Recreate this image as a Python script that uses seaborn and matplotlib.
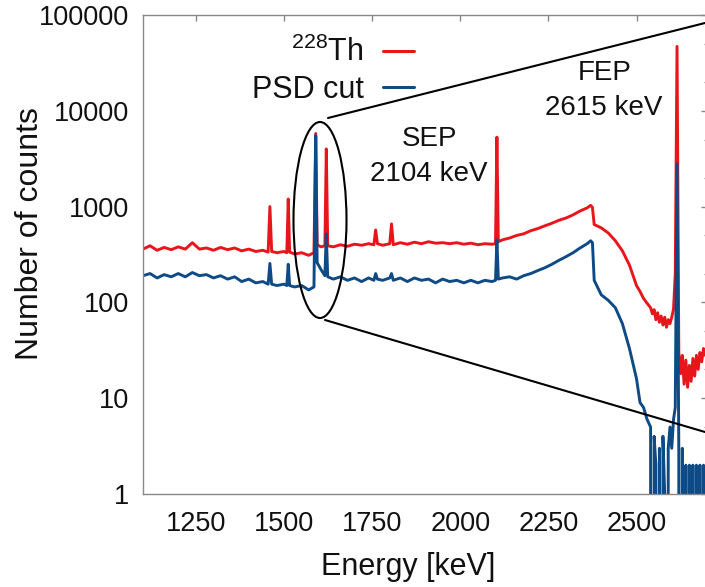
import matplotlib
matplotlib.use("Agg")
import matplotlib.pyplot as plt
import seaborn as sns
import pandas as pd
from matplotlib.patches import Ellipse
from matplotlib.lines import Line2D
from matplotlib.ticker import LogLocator, NullFormatter

# ---------------- data ----------------
energy_kev = [
    1100, 1120, 1140, 1160, 1180, 1200, 1220, 1240, 1260, 1280,
    1300, 1320, 1340, 1360, 1380, 1400, 1420, 1440, 1455, 1460,
    1465, 1480, 1500, 1508, 1512, 1516, 1530, 1550, 1570, 1585,
    1590, 1594, 1605, 1616, 1620, 1624, 1640, 1660, 1680, 1700,
    1720, 1740, 1755, 1760, 1765, 1780, 1800, 1805, 1810, 1830,
    1850, 1870, 1890, 1910, 1930, 1950, 1970, 1990, 2010, 2030,
    2050, 2070, 2090, 2100, 2104, 2108, 2120, 2140, 2160, 2180,
    2200, 2220, 2240, 2260, 2280, 2300, 2320, 2340, 2360, 2370,
    2375, 2380, 2400, 2420, 2440, 2460, 2480, 2500, 2510, 2520,
    2530, 2540, 2545, 2550, 2555, 2560, 2565, 2570, 2575, 2580,
    2585, 2590, 2595, 2600, 2605, 2610, 2615, 2620, 2625, 2630,
    2635, 2640, 2645, 2650, 2655, 2660, 2665, 2670, 2675, 2680,
    2685, 2690, 2695, 2700,
]

th228_counts = [
    360, 390, 350, 375, 355, 380, 360, 420, 360, 370,
    350, 375, 355, 370, 345, 360, 340, 350, 335, 1000,
    340, 330, 340, 330, 1200, 335, 320, 330, 310, 330,
    5800, 400, 380, 390, 4000, 390, 380, 400, 385, 405,
    395, 410, 400, 570, 410, 395, 410, 660, 400, 420,
    405, 425, 410, 430, 415, 420, 410, 420, 405, 415,
    400, 410, 405, 410, 5300, 430, 450, 470, 500, 520,
    560, 590, 630, 670, 720, 760, 820, 900, 970, 1030,
    980, 650, 600, 530, 440, 345, 245, 150, 130, 110,
    98, 88, 76, 84, 66, 78, 62, 72, 58, 70,
    55, 66, 60, 70, 85, 200, 47000, 30, 18, 28,
    14, 25, 13, 22, 15, 26, 17, 28, 20, 30,
    24, 33, 28, 35,
]

psd_cut_counts = [
    190, 200, 180, 195, 185, 200, 185, 205, 190, 195,
    180, 190, 175, 185, 165, 175, 160, 165, 155, 255,
    155, 150, 155, 150, 250, 150, 145, 150, 135, 145,
    5500, 260, 220, 190, 520, 185, 175, 185, 170, 180,
    165, 180, 170, 200, 175, 170, 180, 200, 170, 180,
    165, 180, 170, 175, 160, 175, 165, 170, 160, 170,
    160, 170, 165, 170, 450, 175, 180, 185, 175, 190,
    200, 215, 230, 250, 275, 300, 330, 370, 410, 440,
    420, 170, 120, 105, 88, 60, 33, 16, 9, 8,
    6, 5, 0, 4, 2, 0, 3, 0, 4, 1,
    0, 3, 5, 3, 6, 8, 2800, 3, 0, 3,
    0, 2, 0, 2, 0, 2, 0, 2, 0, 2,
    0, 2, 0, 0,
]

series_names = ["$^{228}$Th", "PSD cut"]
series_colors = ["#e8151b", "#0e4a86"]

x_ticks = [1250, 1500, 1750, 2000, 2250, 2500]
y_ticks = [1, 10, 100, 1000, 10000, 100000]
y_tick_labels = ["1", "10", "100", "1000", "10000", "100000"]

# ---------------- figure ----------------
sns.set_theme(style="white")
plt.rcParams["font.family"] = ["Liberation Sans", "DejaVu Sans"]
plt.rcParams["mathtext.default"] = "regular"

W, H = 705, 587
fig = plt.figure(figsize=(W / 100, H / 100), dpi=100)
ax = fig.add_axes([143 / W, (H - 494) / H, 564 / W, 479 / H])

df = pd.DataFrame({
    "energy": energy_kev + energy_kev,
    "counts": th228_counts + psd_cut_counts,
    "series": [series_names[0]] * len(energy_kev) + [series_names[1]] * len(energy_kev),
})

sns.lineplot(data=df, x="energy", y="counts", hue="series",
             hue_order=series_names, palette=dict(zip(series_names, series_colors)),
             estimator=None, sort=False, linewidth=2.1, legend=False, ax=ax)

ax.set_yscale("log")
ax.set_xlim(1100, 2700)
ax.set_ylim(1, 100000)

ax.set_xticks(x_ticks)
ax.set_xticklabels([str(t) for t in x_ticks])
ax.set_yticks(y_ticks)
ax.set_yticklabels(y_tick_labels)
ax.yaxis.set_minor_locator(LogLocator(base=10, subs=(2, 5)))
ax.yaxis.set_minor_formatter(NullFormatter())

ax.tick_params(axis="both", which="major", direction="in", top=True, right=True,
               length=4, width=1, color="#888888", labelsize=19.5, labelcolor="#111111")
ax.tick_params(axis="x", which="major", pad=12)
ax.tick_params(axis="y", which="major", pad=10)
ax.tick_params(axis="y", which="minor", direction="in", right=True, length=2.5,
               width=0.8, color="#888888")
for s in ax.spines.values():
    s.set_color("#888888")
    s.set_linewidth(1.0)

ax.set_xlabel("Energy [keV]", fontsize=22, color="#111111")
ax.set_ylabel("Number of counts", fontsize=23, color="#111111")
ax.xaxis.set_label_coords((408.5 - 143) / 564, (494 - 552) / 479)
ax.yaxis.set_label_coords((45 - 143) / 564, (494 - 233.5) / 479)

# annotations
ax.text((430 - 143) / 564, (494 - 139) / 479, "SEP", transform=ax.transAxes,
        ha="center", va="center", fontsize=20, color="#111111")
ax.text((429 - 143) / 564, (494 - 174) / 479, "2104 keV", transform=ax.transAxes,
        ha="center", va="center", fontsize=20, color="#111111")
ax.text((605 - 143) / 564, (494 - 73) / 479, "FEP", transform=ax.transAxes,
        ha="center", va="center", fontsize=20, color="#111111")
ax.text((604 - 143) / 564, (494 - 108) / 479, "2615 keV", transform=ax.transAxes,
        ha="center", va="center", fontsize=20, color="#111111")

# ellipse marking the DEP region
ax.add_patch(Ellipse(((320 - 143) / 564, (494 - 220) / 479), 53 / 564, 196 / 479,
                     transform=ax.transAxes, fill=False, edgecolor="black",
                     linewidth=1.5, zorder=5, clip_on=False))

# zoom lines
fig.add_artist(Line2D([328 / W, 1.0], [1 - 118 / H, 1 - 23 / H],
                      transform=fig.transFigure, color="black", linewidth=1.5))
fig.add_artist(Line2D([325 / W, 1.0], [1 - 320 / H, 1 - 432 / H],
                      transform=fig.transFigure, color="black", linewidth=1.5))

# legend
handles = [Line2D([], [], color=c, linewidth=2.2) for c in series_colors]
ax.legend(handles, series_names, loc="upper right",
          bbox_to_anchor=(414 / W, 1 - 37 / H), bbox_transform=fig.transFigure,
          frameon=False, markerfirst=False, fontsize=22, handlelength=1.0,
          handletextpad=0.65, labelspacing=0.22, borderpad=0, borderaxespad=0,
          labelcolor="#111111")

fig.savefig("out.png", dpi=100, facecolor="white")
